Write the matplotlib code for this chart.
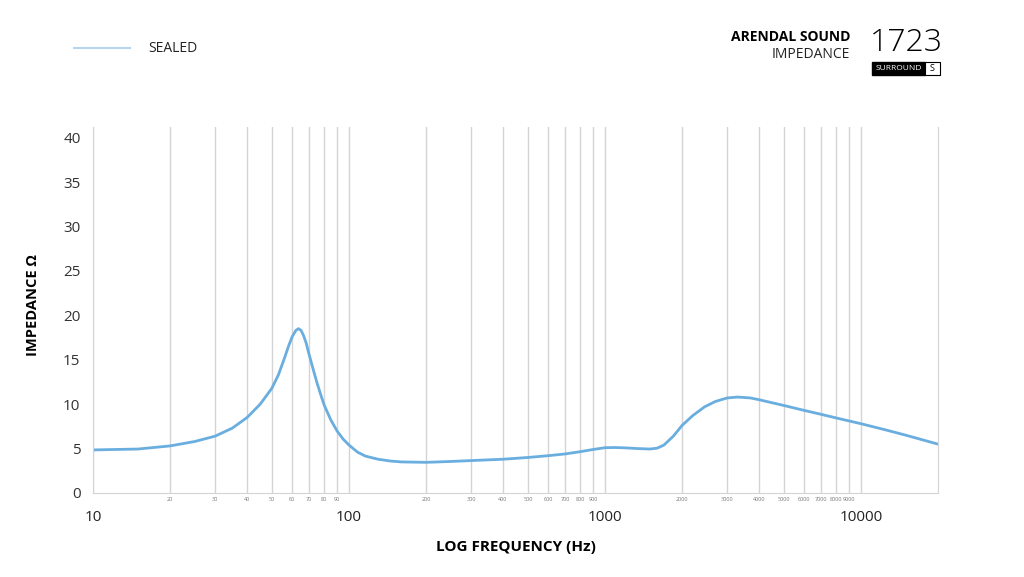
import numpy as np
import matplotlib.pyplot as plt
from matplotlib.patches import Rectangle

# %% data
freq = [10, 15, 20, 25, 30, 35, 40, 45, 50, 53, 56, 58, 60, 62, 63.5, 65, 66.5,
        68, 70, 72.5, 75, 77.5, 80, 85, 90, 95, 100, 108, 116, 130, 145, 160, 200,
        250, 300, 400, 500, 600, 700, 800, 900, 1000, 1100, 1200, 1350, 1500, 1600,
        1700, 1850, 2000, 2200, 2450, 2700, 3000, 3300, 3700, 4000, 5000, 6000,
        7000, 8000, 10000, 12500, 15000, 20000]
imp = [4.85, 4.95, 5.3, 5.8, 6.4, 7.3, 8.5, 10.0, 11.8, 13.3, 15.2, 16.5, 17.6,
       18.3, 18.5, 18.3, 17.7, 16.9, 15.5, 13.9, 12.4, 11.1, 9.9, 8.2, 6.95, 6.05,
       5.4, 4.6, 4.15, 3.8, 3.6, 3.5, 3.45, 3.55, 3.65, 3.8, 4.0, 4.2, 4.4, 4.65,
       4.9, 5.1, 5.12, 5.08, 5.0, 4.95, 5.05, 5.4, 6.4, 7.6, 8.7, 9.7, 10.3, 10.7,
       10.8, 10.7, 10.5, 9.85, 9.3, 8.85, 8.45, 7.8, 7.1, 6.5, 5.5]

minor_ticks = [20, 30, 40, 50, 60, 70, 80, 90, 200, 300, 400, 500, 600, 700, 800, 900,
               2000, 3000, 4000, 5000, 6000, 7000, 8000, 9000]
major_ticks = [10, 100, 1000, 10000]
y_ticks = [0, 5, 10, 15, 20, 25, 30, 35, 40]

# %%
plt.rcParams["font.family"] = ["Open Sans", "DejaVu Sans"]
grid_col = "#d4d4d4"
line_col = "#6aaee0"

fig = plt.figure(figsize=(10.24, 5.77), dpi=100)
ax = fig.add_axes([93 / 1024, 1 - 493 / 577, (938 - 93) / 1024, (493 - 127) / 577])

ax.plot(freq, imp, color=line_col, lw=2, solid_joinstyle="round")
ax.set_xscale("log")
ax.set_xlim(10, 20000)
ax.set_ylim(0, 41.2)

ax.set_xticks(major_ticks)
ax.set_xticklabels([str(t) for t in major_ticks], fontsize=11, color="#222222")
ax.set_xticks(minor_ticks, minor=True)
ax.set_xticklabels([str(t) for t in minor_ticks], minor=True, fontsize=4, color="#777777")
ax.tick_params(axis="x", which="major", length=0, pad=12)
ax.tick_params(axis="x", which="minor", length=0, pad=3)
ax.set_yticks(y_ticks)
ax.set_yticklabels([str(t) for t in y_ticks], fontsize=11, color="#333333")
ax.tick_params(axis="y", length=0, pad=9)

ax.grid(True, axis="x", which="both", color=grid_col, lw=1)
for s in ["left", "bottom", "right"]:
    ax.spines[s].set_color(grid_col)
ax.spines["top"].set_visible(False)
ax.set_axisbelow(True)

ax.set_xlabel("LOG FREQUENCY (Hz)", fontsize=11, fontweight="bold", labelpad=11)
fig.text(33 / 1024, 1 - 305 / 577, "IMPEDANCE Ω", rotation=90, fontsize=10.5,
         fontweight="bold", ha="center", va="center")

# %% legend
fig.add_artist(plt.Line2D([74 / 1024, 130 / 1024], [1 - 48 / 577] * 2,
                          color="#b5d6ee", lw=1.5))
fig.text(148 / 1024, 1 - 49 / 577, "SEALED", fontsize=10, va="center", color="#222222")

# %% brand block
fig.text(850 / 1024, 1 - 37 / 577, "ARENDAL SOUND", fontsize=10, fontweight="bold",
         ha="right", va="center")
fig.text(850 / 1024, 1 - 54 / 577, "IMPEDANCE", fontsize=10, ha="right", va="center",
         color="#222222")
fig.text(870 / 1024, 1 - 43 / 577, "1723", fontsize=23, fontweight="light",
         ha="left", va="center")
fig.add_artist(Rectangle((872 / 1024, 1 - 75 / 577), 53 / 1024, 13 / 577,
                         transform=fig.transFigure, facecolor="black", edgecolor="black"))
fig.add_artist(Rectangle((925 / 1024, 1 - 75 / 577), 15 / 1024, 13 / 577,
                         transform=fig.transFigure, facecolor="white", edgecolor="black", lw=0.8))
fig.text(898.5 / 1024, 1 - 68.5 / 577, "SURROUND", fontsize=6, color="white",
         ha="center", va="center")
fig.text(932.5 / 1024, 1 - 68.5 / 577, "S", fontsize=6.5, color="black",
         ha="center", va="center")

fig.savefig("out.png", dpi=100)
